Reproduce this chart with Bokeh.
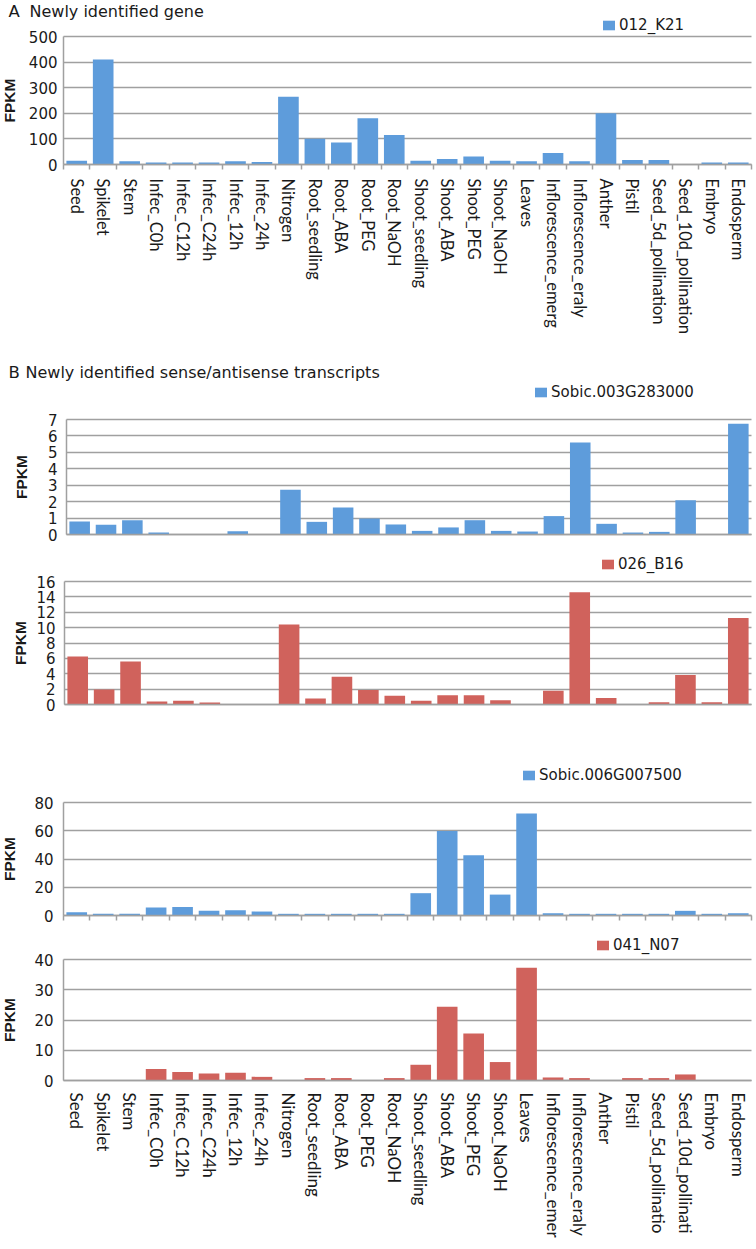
from bokeh.plotting import figure
from bokeh.models import (Range1d, FixedTicker, ColumnDataSource, Legend,
                          LegendItem, Label)
from bokeh.layouts import column
from bokeh.embed import file_html
from bokeh.resources import INLINE

# ---------------- data ----------------
categories = ["Seed", "Spikelet", "Stem", "Infec_C0h", "Infec_C12h", "Infec_C24h",
              "Infec_12h", "Infec_24h", "Nitrogen", "Root_seedling", "Root_ABA",
              "Root_PEG", "Root_NaOH", "Shoot_seedling", "Shoot_ABA", "Shoot_PEG",
              "Shoot_NaOH", "Leaves", "Inflorescence_emerg", "Inflorescence_eraly",
              "Anther", "Pistil", "Seed_5d_pollination", "Seed_10d_pollination",
              "Embryo", "Endosperm"]

bottom_tick_labels = ["Seed", "Spikelet", "Stem", "Infec_C0h", "Infec_C12h", "Infec_C24h",
                      "Infec_12h", "Infec_24h", "Nitrogen", "Root_seedling", "Root_ABA",
                      "Root_PEG", "Root_NaOH", "Shoot_seedling", "Shoot_ABA", "Shoot_PEG",
                      "Shoot_NaOH", "Leaves", "Inflorescence_emer", "Inflorescence_eraly",
                      "Anther", "Pistil", "Seed_5d_pollinatio", "Seed_10d_pollinati",
                      "Embryo", "Endosperm"]

fpkm_012_K21 = [15, 410, 13, 8, 8, 8, 13, 10, 265, 101, 86, 181, 115, 15, 21, 31,
                15, 13, 45, 13, 200, 18, 18, 0, 8, 8]
fpkm_sobic_003G283000 = [0.79, 0.59, 0.87, 0.12, 0, 0, 0.2, 0, 2.72, 0.77, 1.64, 0.97,
                         0.61, 0.22, 0.43, 0.87, 0.22, 0.18, 1.12, 5.6, 0.65, 0.12,
                         0.16, 2.09, 0, 6.74]
fpkm_026_B16 = [6.26, 1.96, 5.6, 0.39, 0.48, 0.26, 0, 0, 10.4, 0.78, 3.6, 1.87, 1.13,
                0.48, 1.2, 1.2, 0.56, 0, 1.78, 14.6, 0.83, 0, 0.3, 3.83, 0.3, 11.26]
fpkm_sobic_006G007500 = [2.35, 1.2, 1.2, 5.6, 6.1, 3.3, 3.8, 2.8, 1.2, 1.2, 1.2, 1.2,
                         1.2, 15.8, 59.8, 42.6, 14.8, 72.2, 1.6, 1.2, 1.2, 1.2, 1.2,
                         3.3, 1.2, 1.6]
fpkm_041_N07 = [0, 0, 0, 3.8, 2.8, 2.3, 2.6, 1.2, 0, 0.8, 0.8, 0, 0.8, 5.2, 24.4,
                15.5, 6.1, 37.3, 1.0, 0.8, 0, 0.8, 0.8, 2.0, 0, 0]

ticks_a = [0, 100, 200, 300, 400, 500]
ticks_b1 = [0, 1, 2, 3, 4, 5, 6, 7]
ticks_b2 = [0, 2, 4, 6, 8, 10, 12, 14, 16]
ticks_b3 = [0, 20, 40, 60, 80]
ticks_b4 = [0, 10, 20, 30, 40]

# ---------------- style ----------------
BLUE = "#5e9cdb"
RED = "#d0625c"
GRID = "#a0a0a0"
TXT = "#1a1a1a"
W = 756
N = len(categories)
centers = list(range(N))
boundaries = [i - 0.5 for i in range(N + 1)]
X0, X1 = -0.5, N - 0.5


def panel(values, color, name, yticks, fig_h, y_top_px, y_zero_px, frame_left,
          ylab_standoff, ytick_standoff, legend_px, legend_top_px,
          tick_labels=None, boundary_ticks=False, xlab_standoff=9,
          xlab_size="16.5px", frame_right=751):
    # pixel layout -> range extents (the frame covers the whole canvas)
    u = (frame_right - frame_left) / (X1 - X0)
    x_start = X0 - frame_left / u
    x_end = X1 + (W - frame_right) / u
    ymax = yticks[-1]
    v = (y_zero_px - y_top_px) / ymax
    y_end = ymax + y_top_px / v
    y_start = -(fig_h - y_zero_px) / v

    p = figure(width=W, height=fig_h, output_backend="svg", toolbar_location=None,
               tools="", title=None,
               x_range=Range1d(x_start, x_end), y_range=Range1d(y_start, y_end),
               min_border_left=0, min_border_right=0, min_border_top=0,
               min_border_bottom=0)
    p.outline_line_color = None
    p.background_fill_color = "white"
    p.border_fill_color = "white"

    src = ColumnDataSource(dict(x=centers, category=categories, fpkm=values))
    r = p.vbar(x="x", top="fpkm", width=0.78, source=src, fill_color=color,
               line_color=None)

    # y axis, drawn at the left edge of the category area
    ya = p.yaxis[0]
    ya.fixed_location = X0
    ya.bounds = (0, ymax)
    ya.ticker = FixedTicker(ticks=yticks)
    ya.axis_line_color = GRID
    ya.axis_line_width = 1.5
    ya.major_tick_out = 0
    ya.major_tick_in = 0
    ya.minor_tick_out = 0
    ya.minor_tick_in = 0
    ya.major_label_text_font = "DejaVu Sans"
    ya.major_label_text_font_size = "15px"
    ya.major_label_text_color = TXT
    ya.major_label_standoff = ytick_standoff
    ya.axis_label = "FPKM"
    ya.axis_label_text_font = "Liberation Sans"
    ya.axis_label_text_font_style = "bold"
    ya.axis_label_text_font_size = "15.5px"
    ya.axis_label_text_color = TXT
    ya.axis_label_standoff = ylab_standoff

    # x axis at FPKM = 0
    xa = p.xaxis[0]
    xa.fixed_location = 0
    xa.bounds = (X0, X1)
    xa.axis_line_color = GRID
    xa.axis_line_width = 1.5
    xa.major_tick_out = 0
    xa.major_tick_in = 0
    xa.minor_tick_in = 0
    xa.minor_tick_out = 5
    xa.minor_tick_line_color = GRID
    xa.minor_tick_line_width = 1.5
    major = centers if tick_labels is not None else []
    minor = boundaries if boundary_ticks else []
    xa.ticker = FixedTicker(ticks=major, minor_ticks=minor)
    if tick_labels is not None:
        xa.major_label_overrides = {i: lab for i, lab in zip(centers, tick_labels)}
        xa.major_label_orientation = "vertical"
        xa.major_label_text_font = "Lato"
        xa.major_label_text_font_size = xlab_size
        xa.major_label_text_color = TXT
        xa.major_label_standoff = xlab_standoff

    p.ygrid.grid_line_color = GRID
    p.ygrid.grid_line_width = 1.5
    p.ygrid.cross_bounds = (X0, X1)
    p.xgrid.grid_line_color = None

    item_h = 19
    legend = Legend(items=[LegendItem(label=name, renderers=[r])],
                    location=(legend_px, fig_h - legend_top_px - item_h),
                    border_line_color=None, background_fill_alpha=0,
                    padding=0, margin=0, spacing=0, glyph_width=15,
                    glyph_height=12, label_standoff=3, label_height=12,
                    label_text_font="DejaVu Sans", label_text_font_size="15px",
                    label_text_color=TXT)
    p.add_layout(legend)
    return p


def title(p, fig_h, letter, text, y_px, text_x):
    y = fig_h - y_px
    p.add_layout(Label(x=8, y=y, x_units="screen", y_units="screen",
                       text=letter, text_font="DejaVu Sans", text_font_size="16.5px",
                       text_baseline="middle", text_color=TXT))
    p.add_layout(Label(x=text_x, y=y, x_units="screen", y_units="screen",
                       text=text, text_font="DejaVu Sans", text_font_size="16px",
                       text_baseline="middle", text_color=TXT))


# Panel A (page y 0..360)
pa = panel(fpkm_012_K21, BLUE, "012_K21", ticks_a, fig_h=360, y_top_px=36,
           y_zero_px=164, frame_left=63, ylab_standoff=8, ytick_standoff=6,
           legend_px=601, legend_top_px=15, tick_labels=categories,
           boundary_ticks=True, xlab_standoff=9)
title(pa, 360, "A", "Newly identified gene", 11, 29)

# Panel B1 (page y 360..548)
pb1 = panel(fpkm_sobic_003G283000, BLUE, "Sobic.003G283000", ticks_b1, fig_h=188,
            y_top_px=59, y_zero_px=174, frame_left=66, ylab_standoff=15,
            ytick_standoff=9, legend_px=533, legend_top_px=22)
title(pb1, 188, "B", "Newly identified sense/antisense transcripts", 12, 25)

# Panel B2 (page y 548..760)
pb2 = panel(fpkm_026_B16, RED, "026_B16", ticks_b2, fig_h=212, y_top_px=33,
            y_zero_px=156, frame_left=64, ylab_standoff=4, ytick_standoff=9,
            legend_px=600, legend_top_px=6)

# Panel B3 (page y 760..925)
pb3 = panel(fpkm_sobic_006G007500, BLUE, "Sobic.006G007500", ticks_b3, fig_h=165,
            y_top_px=42, y_zero_px=155, frame_left=63, ylab_standoff=13,
            ytick_standoff=10, legend_px=521, legend_top_px=5, boundary_ticks=True)

# Panel B4 (page y 925..1249)
pb4 = panel(fpkm_041_N07, RED, "041_N07", ticks_b4, fig_h=324, y_top_px=34,
            y_zero_px=155, frame_left=63, ylab_standoff=13, ytick_standoff=10,
            legend_px=595, legend_top_px=10, tick_labels=bottom_tick_labels,
            xlab_standoff=12, xlab_size="17px")

layout = column(pa, pb1, pb2, pb3, pb4, spacing=0)

open("out.html", "w").write(file_html(layout, INLINE))
